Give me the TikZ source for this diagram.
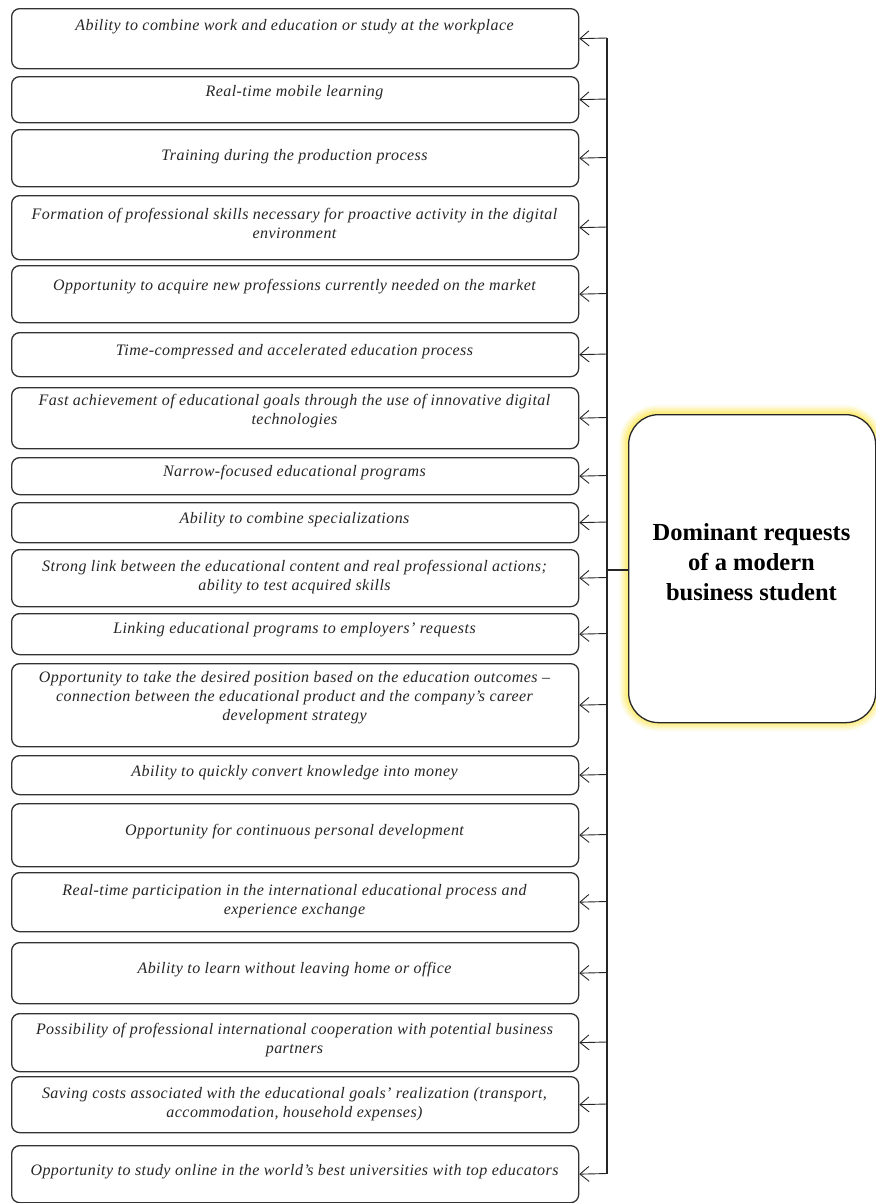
\documentclass[tikz,border=0pt]{standalone}
\usepackage{fontspec}
\setmainfont{Liberation Serif}
\usetikzlibrary{arrows.meta}
\tikzset{
  itembox/.style={draw=black!80, line width=1.3pt, rounded corners=8pt, anchor=north west, minimum width=567pt, inner sep=0pt},
  itemtext/.style={font=\fontsize{16}{19}\selectfont\itshape\addfontfeature{LetterSpace=2.8}, align=center, text=black!85, inner sep=0pt},
  feed/.style={draw=black!85, line width=0.9pt, -{Straight Barb[length=9pt,width=15pt,line width=0.9pt]}},
  trunk/.style={draw=black!85, line width=1.1pt},
}
\newcommand{\itm}[5]{%
  \node[itembox, minimum height={#3-#2}] (#1) at (11,#2) {};
  \node[itemtext] (#1t) at (294.5,#4) {#5};
  \coordinate (#1j) at (607,{#2+(#3-#2)/2});
  \draw[feed] (#1j) -- (#1.east);
}
\begin{document}
\begin{tikzpicture}[x=1pt,y=-1pt]
\useasboundingbox (0,0) rectangle (876,1203);
\fill[white] (0,0) rectangle (876,1203);
\itm{b1}{8}{68}{27}{Ability to combine work and education or study at the workplace}
\itm{b2}{76}{122}{93}{Real-time mobile learning}
\itm{b3}{129}{186}{157}{Training during the production process}
\itm{b4}{195}{259}{223}{Formation of professional skills necessary for proactive activity in the digital\\environment}
\itm{b5}{265}{322}{287}{Opportunity to acquire new professions currently needed on the market}
\itm{b6}{332}{376}{352}{Time-compressed and accelerated education process}
\itm{b7}{387}{448}{411}{Fast achievement of educational goals through the use of innovative digital\\technologies}
\itm{b8}{457}{494}{473}{Narrow-focused educational programs}
\itm{b9}{502}{542}{520}{Ability to combine specializations}
\itm{b10}{549}{606}{577}{Strong link between the educational content and real professional actions;\\ability to test acquired skills}
\itm{b11}{613}{654}{630}{Linking educational programs to employers' requests}
\itm{b12}{663}{746}{698}{Opportunity to take the desired position based on the education outcomes --\\connection between the educational product and the company's career\\development strategy}
\itm{b13}{755}{794}{773}{Ability to quickly convert knowledge into money}
\itm{b14}{803}{866}{832}{Opportunity for continuous personal development}
\itm{b15}{872}{931}{901}{Real-time participation in the international educational process and\\experience exchange}
\itm{b16}{942}{1003}{970}{Ability to learn without leaving home or office}
\itm{b17}{1013}{1071}{1040}{Possibility of professional international cooperation with potential business\\partners}
\itm{b18}{1076}{1132}{1104}{Saving costs associated with the educational goals' realization (transport,\\accommodation, household expenses)}
\itm{b19}{1145}{1202}{1172}{Opportunity to study online in the world's best universities with top educators}
\draw[trunk] (b1j) -- (b19j);
% main box with soft glow
\foreach \w/\o in {18/0.10,15/0.13,12/0.16,9/0.20,6/0.25,3/0.30}{
  \draw[yellow!85!orange!70, line width=\w pt, opacity=\o, rounded corners=30pt] (628,414) rectangle (875,722);
}
\node[draw=black!85, fill=white, line width=1.3pt, rounded corners=30pt, minimum width=247pt, minimum height=308pt, inner sep=0pt, anchor=north west] (main) at (628,414) {};
\node[font=\fontsize{24.5}{30}\selectfont\bfseries, align=center, inner sep=0pt] (maint) at (751.5,562) {Dominant requests\\of a modern\\business student};
\coordinate (mj) at (607,570);
\draw[trunk] (main.west |- mj) -- (mj);
\end{tikzpicture}
\end{document}
